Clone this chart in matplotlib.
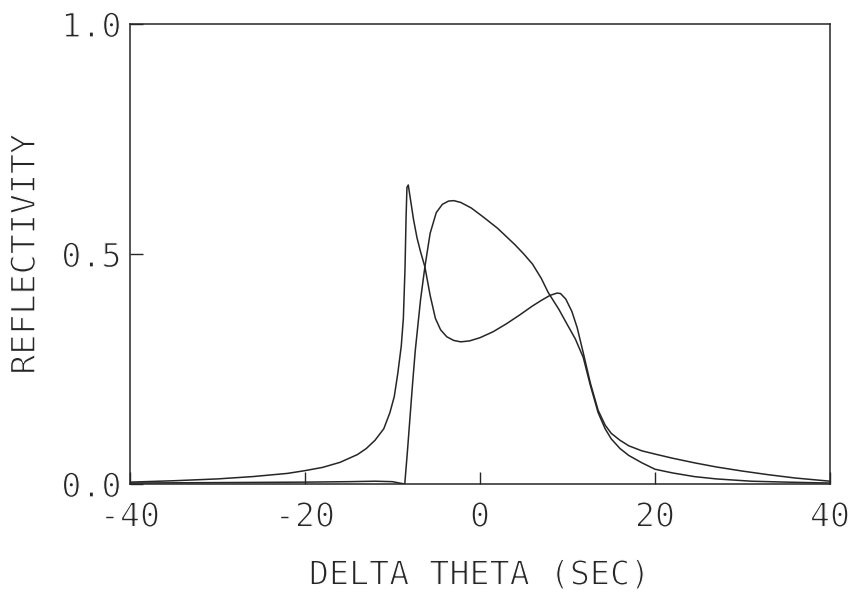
import matplotlib
matplotlib.use("Agg")
import matplotlib.pyplot as plt
import matplotlib.patheffects as pe

# curve with the sharp peak near -8 and the Lorentzian left tail
theta_a = [-40, -35, -30, -26, -22, -20, -18, -16, -14, -13, -12, -11, -10.3, -9.8,
           -9.4, -9.0, -8.76, -8.57, -8.45, -8.35, -8.2, -8.0, -7.6, -7.2, -6.8, -6.3,
           -5.7, -5.1, -4.5, -3.8, -3.0, -2.2, -1.2, 0, 1.5, 3, 4.5, 6, 7, 8, 8.8, 9.2,
           9.8, 10.5, 11.1, 11.8, 12.6, 13.5, 14.3, 15, 16, 17, 18.5, 20, 22, 24.5, 27,
           30, 33, 36, 40]
refl_a = [0.004, 0.007, 0.011, 0.016, 0.023, 0.029, 0.036, 0.047, 0.064, 0.077, 0.095,
          0.12, 0.155, 0.19, 0.24, 0.30, 0.36, 0.47, 0.58, 0.645, 0.65, 0.625, 0.575,
          0.535, 0.505, 0.472, 0.41, 0.36, 0.335, 0.32, 0.312, 0.309, 0.311, 0.318,
          0.331, 0.348, 0.367, 0.387, 0.399, 0.41, 0.415, 0.414, 0.402, 0.375, 0.34,
          0.285, 0.22, 0.16, 0.128, 0.11, 0.095, 0.083, 0.072, 0.065, 0.056, 0.046,
          0.037, 0.028, 0.02, 0.013, 0.006]

# curve that stays at zero below -8.6 and has the broad peak near -3
theta_b = [-40, -30, -20, -15, -12, -10, -9.2, -8.6, -8.3, -8.0, -7.7, -7.4, -7.1, -6.8,
           -6.3, -5.7, -5.0, -4.3, -3.6, -3.0, -2.2, -1, 0.4, 2, 3, 4, 5, 6, 7, 7.8, 9,
           9.9, 10.9, 11.8, 12.6, 13.5, 14.3, 15, 16, 17, 18.5, 20, 22, 24.5, 27, 31,
           35, 40]
refl_b = [0.002, 0.003, 0.004, 0.005, 0.006, 0.005, 0.002, 0.0, 0.07, 0.145, 0.22, 0.29,
          0.345, 0.40, 0.472, 0.545, 0.59, 0.608, 0.615, 0.616, 0.612, 0.60, 0.58, 0.556,
          0.538, 0.52, 0.50, 0.478, 0.447, 0.416, 0.38, 0.349, 0.315, 0.275, 0.215,
          0.155, 0.12, 0.098, 0.077, 0.062, 0.046, 0.032, 0.024, 0.016, 0.011, 0.006,
          0.004, 0.002]

x_ticks = [-40, -20, 0, 20, 40]
x_labels = ["-40", "-20", "0", "20", "40"]
y_ticks = [0.0, 0.5, 1.0]
y_labels = ["0.0", "0.5", "1.0"]

plt.rcParams["font.family"] = ["DejaVu Sans Mono"]
ink = "#262626"
# plotter lettering is thin: erode the glyph edges with a white stroke on top
thin = [pe.Normal(), pe.Stroke(linewidth=0.9, foreground="white")]

fig = plt.figure(figsize=(8.52, 6.12), dpi=100)
ax = fig.add_axes([0.1526, 0.2092, 0.8216, 0.7516])

ax.plot(theta_a, refl_a, color=ink, lw=1.1)
ax.plot(theta_b, refl_b, color=ink, lw=1.1)

ax.set_xlim(-40, 40)
ax.set_ylim(0, 1)
ax.set_xticks(x_ticks)
ax.set_xticklabels(x_labels)
ax.set_yticks(y_ticks)
ax.set_yticklabels(y_labels)
ax.tick_params(direction="in", length=9, width=1.0, color=ink, labelcolor=ink,
               labelsize=24)
ax.tick_params(axis="x", pad=12)
ax.tick_params(axis="y", pad=6)
for sp in ax.spines.values():
    sp.set_color(ink)
    sp.set_linewidth(1.1)

ax.set_xlabel("DELTA THETA (SEC)", fontsize=24, color=ink, labelpad=18)
ax.set_ylabel("REFLECTIVITY", fontsize=24, color=ink, labelpad=14)

for t in ax.get_xticklabels() + ax.get_yticklabels() + [ax.xaxis.label, ax.yaxis.label]:
    t.set_path_effects(thin)

fig.savefig("out.png", dpi=100)
